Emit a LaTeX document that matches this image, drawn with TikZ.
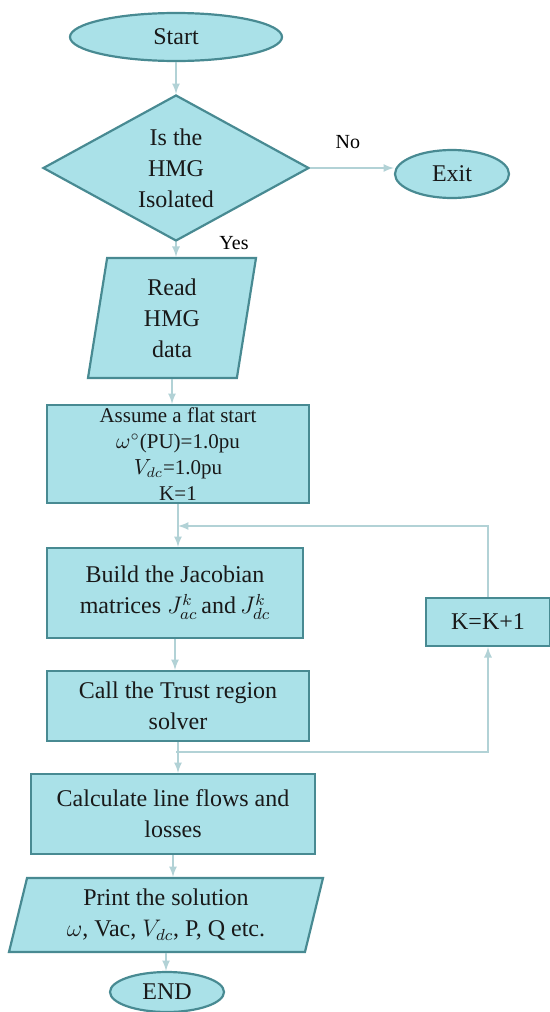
\documentclass[tikz,border=0pt]{standalone}
\usepackage{fontspec}
\setmainfont{Liberation Serif}
\usetikzlibrary{shapes.geometric}

\definecolor{boxfill}{RGB}{170,225,232}
\definecolor{boxline}{RGB}{72,138,146}
\definecolor{flowline}{RGB}{178,210,214}

\tikzset{
	box/.style = {draw = boxline, fill = boxfill, line width = 1.1pt, align = center, inner sep = 1pt,
		font = \fontsize{12}{15.5}\selectfont, text = black!90},
	oval/.style = {box, ellipse},
	choice/.style = {box, diamond, aspect = 1.8, inner sep = 0pt},
	iobox/.style = {box, trapezium, trapezium stretches body},
	flow/.style = {draw = flowline, line width = 0.8pt, ->},
	tag/.style = {font = \fontsize{10}{12}\selectfont}
}

\begin{document}
\begin{tikzpicture}[> = latex, x = 0.5pt, y = -0.5pt]

	\useasboundingbox (0, 0) rectangle (550, 1012);

	% Main column

	\node [oval, minimum width = 106pt, minimum height = 24pt] (start) at (176, 37) {Start};
	\node [choice, minimum width = 133pt, minimum height = 73pt] (isol) at (176, 168) {Is the\\HMG\\Isolated};
	\node [oval, minimum width = 57pt, minimum height = 24pt] (exit) at (452, 174) {Exit};
	\node [iobox, trapezium left angle = 77, trapezium right angle = 103,
		minimum width = 84pt, minimum height = 60pt] (read) at (172, 318) {Read\\HMG\\data};
	\node [box, minimum width = 131pt, minimum height = 49pt, font = \fontsize{10.5}{13}\selectfont] (init) at (178, 454)
		{Assume a flat start\\$\omega^{\circ}$(PU)=1.0pu\\$V_{dc}$=1.0pu\\K=1};
	\node [box, minimum width = 128pt, minimum height = 45pt] (jacob) at (175, 593)
		{Build the Jacobian\\matrices $J_{ac}^{k}$\,and\,$J_{dc}^{k}$};
	\node [box, minimum width = 131pt, minimum height = 35pt] (solve) at (178, 706) {Call the Trust region\\solver};
	\node [box, minimum width = 142pt, minimum height = 40pt] (flows) at (173, 814) {Calculate line flows and\\losses};
	\node [iobox, trapezium left angle = 72, trapezium right angle = 108,
		minimum width = 157pt, minimum height = 37pt] (print) at (166, 915)
		{Print the solution\\$\omega$, Vac, $V_{dc}$, P, Q etc.};
	\node [oval, minimum width = 57pt, minimum height = 20pt] (stop) at (167, 992) {END};

	% Iteration counter

	\node [box, minimum width = 62pt, minimum height = 24pt] (kinc) at (488, 622) {K=K+1};

	\coordinate (merge) at (178, 526);
	\coordinate (split) at (176, 752);

	% Connectors

	\draw [flow] (start.south) -- (start.south |- isol.north);
	\draw [flow] (isol.east) -- node [tag, pos = 0.45, above = 6pt] {No} (isol.east -| exit.west);
	\draw [flow] (isol.south) -- node [tag, pos = 0.05, right = 18pt] {Yes} (isol.south |- read.north);
	\draw [flow] (read.south) -- (read.south |- init.north);
	\draw [flow] (init.south) -- (init.south |- jacob.north);
	\draw [flow] (kinc.north) |- (merge);
	\draw [flow] (jacob.south) -- (jacob.south |- solve.north);
	\draw [flow] (solve.south) -- (solve.south |- flows.north);
	\draw [flow] (split) -| (kinc.south);
	\draw [flow] (flows.south) -- (flows.south |- print.north);
	\draw [flow] (print.south) -- (print.south |- stop.north);

\end{tikzpicture}
\end{document}
